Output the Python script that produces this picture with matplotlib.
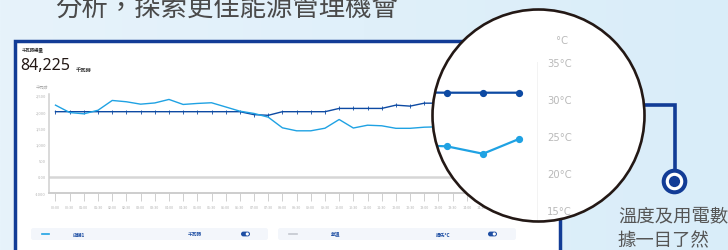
import matplotlib
matplotlib.use('Agg')
import matplotlib.pyplot as plt
import numpy as np
from matplotlib.patches import Rectangle, Circle, FancyBboxPatch
from matplotlib import font_manager as fm

W, H, DPI = 728, 251, 100

avail = {f.name for f in fm.fontManager.ttflist}
CJK = 'Noto Sans CJK TC'
NARROW = 'Liberation Sans Narrow' if 'Liberation Sans Narrow' in avail else 'DejaVu Sans'
plt.rcParams['font.family'] = [CJK, 'DejaVu Sans']

# ---------------- data ----------------
time_labels = ["00:00", "00:30", "01:00", "01:30", "02:00", "02:30", "03:00", "03:30",
               "04:00", "04:30", "05:00", "05:30", "06:00", "06:30", "07:00", "07:30",
               "08:00", "08:30", "09:00", "09:30", "10:00", "10:30", "11:00", "11:30",
               "12:00", "12:30", "13:00", "13:00", "13:30", "14:00", "14:30", "15:00",
               "15:30", "16:00", "16:30", "17:00"]
kwh_ticks = [-500, 0, 500, 1000, 1500, 2000, 2500]
kwh_tick_labels = ["-1000", "0.00", "500", "1,000", "1,500", "2,000", "2,500"]

store1_kwh = [2190, 1965, 1925, 2035, 2333, 2293, 2220, 2257, 2364, 2211, 2242, 2263,
              2135, 2006, 1936, 1823, 1498, 1407, 1407, 1486, 1752, 1492, 1578, 1560,
              1483, 1483, 1517, 1529]
temp_kwh_scale = [1990, 1990, 1990, 1990, 1990, 1990, 1990, 1990, 1990, 1990, 1990, 1990,
                  1990, 1990, 1900, 1880, 1990, 1990, 1990, 1990, 2090, 2090, 2090, 2090,
                  2190, 2160, 2250, 2250]

zoom_temp_c = [30.9, 30.85, 30.85, 30.85]
zoom_store_c = [23.8, 23.6, 22.6, 24.6]
zoom_ticks = [15, 20, 25, 30, 35]
zoom_tick_labels = ["15°C", "20°C", "25°C", "30°C", "35°C"]

DARK = '#0d4aa3'
LIGHT = '#1fa2e3'
FRAME = '#123c96'


def rect(x0, y0, x1, y1):
    return [x0 / W, 1 - y1 / H, (x1 - x0) / W, (y1 - y0) / H]


def overlay(z):
    a = fig.add_axes([0, 0, 1, 1], zorder=z)
    a.set_xlim(0, W)
    a.set_ylim(H, 0)
    a.axis('off')
    a.patch.set_alpha(0)
    return a


fig = plt.figure(figsize=(W / DPI, H / DPI), dpi=DPI)

# ---------------- background layer ----------------
bg = overlay(0)
grad = np.linspace(0, 1, 256)[None, :]
from matplotlib.colors import LinearSegmentedColormap
cm = LinearSegmentedColormap.from_list('bg', ['#e7f3fb', '#d9edf9'])
bg.imshow(grad, extent=(0, W, H, 0), aspect='auto', cmap=cm, zorder=0)
bg.set_xlim(0, W)
bg.set_ylim(H, 0)

bg.text(55, 16, "分析，探索更佳能源管理機會", fontsize=19, color='#4a4a4a',
        ha='left', va='baseline')

bg.add_patch(Rectangle((15, 41.5), 544.5, 230, facecolor='white',
                       edgecolor=FRAME, lw=2.5, zorder=2))

bg.text(22, 50, "千瓦時總量", fontsize=3.2, color='#333333', ha='left', va='center',
        fontweight='bold', zorder=3)
bg.text(20.5, 66, "84,225", fontsize=11.5, color='#231815', ha='left', va='center',
        family=['Noto Sans', 'DejaVu Sans'], zorder=3)
bg.text(76, 70, "千瓦時", fontsize=3.8, color='#333333', ha='left', va='center',
        fontweight='bold', zorder=3)
bg.text(42, 87, "千瓦時", fontsize=3.0, color='#aaaaaa', ha='center', va='center', zorder=3)

# legend bars
for (x0, x1) in [(31, 268), (278, 516)]:
    bg.add_patch(FancyBboxPatch((x0, 229), x1 - x0, 12,
                                boxstyle="round,pad=0,rounding_size=2.5",
                                facecolor='#f3f6fb', edgecolor='none', zorder=3))
bg.plot([42, 49], [235, 235], color=LIGHT, lw=1.2, zorder=4)
bg.plot([289, 297], [235, 235], color='#c4c8cf', lw=1.2, zorder=4)
lg_kw = dict(fontsize=3.4, color='#1d4ea3', fontweight='bold', va='center', zorder=4)
bg.text(73, 235, "店舖1", ha='left', **lg_kw)
bg.text(188, 235, "千瓦時", ha='left', **lg_kw)
bg.text(331, 235, "氣溫", ha='left', **lg_kw)
bg.text(436, 235, "攝氏°C", ha='left', **lg_kw)
for tx in [241, 488]:
    bg.add_patch(FancyBboxPatch((tx, 232.6), 9, 4.8,
                                boxstyle="round,pad=0,rounding_size=2.4",
                                facecolor='#1d4ea3', edgecolor='none', zorder=4))
    bg.add_patch(Circle((tx + 6.3, 235), 1.6, facecolor='white', edgecolor='none', zorder=5))

# ---------------- main chart ----------------
ax = fig.add_axes(rect(49, 95, 559, 194.3), zorder=1)
ax.patch.set_alpha(0)
k = np.arange(len(store1_kwh))
ax.plot(k, temp_kwh_scale, color=DARK, lw=1.0, marker='|', ms=2.6, mew=0.6, zorder=3)
ax.plot(k, store1_kwh, color=LIGHT, lw=1.0, zorder=4)
ax.axhline(0, color='#d6d6d6', lw=1.8, zorder=1)
ax.set_xlim(-0.458, 35.5)
ax.set_ylim(-500, 2530)
ax.set_yticks(kwh_ticks)
ax.set_yticklabels(kwh_tick_labels)
ax.set_xticks(np.arange(len(time_labels)))
ax.set_xticklabels(time_labels)
ax.tick_params(axis='y', length=0, pad=2.2, labelsize=2.9, labelcolor='#b3b3b3')
ax.tick_params(axis='x', length=6, width=0.7, color='#cfcfcf', pad=2.5,
               labelsize=2.7, labelcolor='#b3b3b3', direction='out')
for s in ['top', 'right']:
    ax.spines[s].set_visible(False)
ax.spines['left'].set_color('#d0d0d0')
ax.spines['left'].set_linewidth(1.1)
ax.spines['bottom'].set_color('#cdcdcd')
ax.spines['bottom'].set_linewidth(1.4)

# ---------------- magnifier + callout ----------------
CX, CY, R = 538.5, 116.5, 106
fg = overlay(2)
fg.add_patch(Circle((CX, CY), R, facecolor='white', edgecolor='none'))
fg.plot([644, 674.5, 674.5], [105.5, 105.5, 171], color=FRAME, lw=2.6,
        solid_joinstyle='miter', solid_capstyle='butt')
fg.add_patch(Circle((674.5, 182.5), 10.8, facecolor='white', edgecolor=FRAME, lw=2.9))
fg.add_patch(Circle((674.5, 182.5), 5.6, facecolor=FRAME, edgecolor='none'))
fg.text(618, 216, "溫度及用電數", fontsize=13.2, color='#555555', ha='left', va='center')
fg.text(618, 241, "據一目了然", fontsize=13.2, color='#555555', ha='left', va='center')

clip = Circle((CX, CY), R, transform=fg.transData)

ins = fig.add_axes(rect(432, 63, 538, 63 + 22 * 7.4), zorder=3)
ins.patch.set_alpha(0)
zi = np.arange(len(zoom_temp_c)) - 1
l1, = ins.plot(zi, zoom_temp_c, color=DARK, lw=1.6, marker='o', ms=4.2)
l2, = ins.plot(zi, zoom_store_c, color=LIGHT, lw=1.6, marker='o', ms=4.2)
for ln in (l1, l2):
    ln.set_clip_path(clip)
ins.set_xlim((432 - 447) / 36, (538 - 447) / 36)
ins.set_ylim(13, 35)
ins.set_yticks(zoom_ticks)
ins.set_yticklabels(zoom_tick_labels)
ins.set_xticks([])
ins.yaxis.tick_right()
ins.tick_params(axis='y', length=0, pad=6.5, labelsize=7.2, labelcolor='#b9b9b9')
for lab in ins.get_yticklabels():
    lab.set_family([NARROW, 'DejaVu Sans'])
for s in ['top', 'left', 'bottom']:
    ins.spines[s].set_visible(False)
ins.spines['right'].set_color('#c2c2c2')
ins.spines['right'].set_linewidth(1.0)
ins.spines['right'].set_clip_path(clip)
fg.text(562, 41, "°C", fontsize=7.2, color='#b9b9b9', ha='center', va='center',
        family=[NARROW, 'DejaVu Sans'])

top = overlay(4)
top.add_patch(Circle((CX, CY), R, facecolor='none', edgecolor='#231815', lw=1.9))

fig.savefig('out.png', dpi=DPI)
